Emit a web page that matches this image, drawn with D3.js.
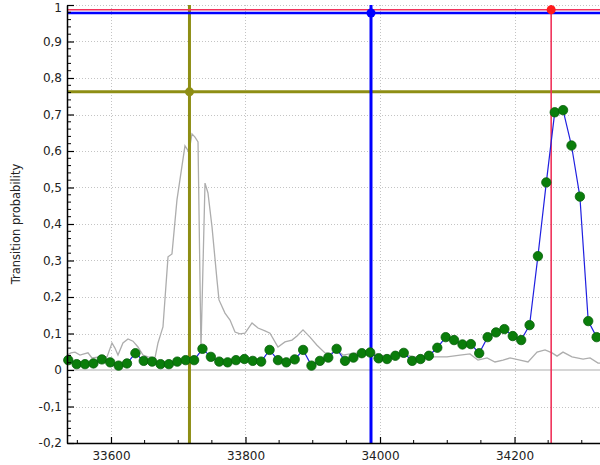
<!DOCTYPE html>
<html>
<head>
<meta charset="utf-8">
<script src="https://cdn.jsdelivr.net/npm/d3@7"></script>
<style>
  html, body { margin: 0; padding: 0; background: #fff; }
  svg { display: block; }
  text { font-family: "DejaVu Sans", Verdana, sans-serif; }
</style>
</head>
<body>
<svg id="chart" width="600" height="465"></svg>
<script>
// ---------- data ----------
const pointX = [33536.5,33549.0,33561.4,33573.9,33586.4,33598.9,33611.3,33623.8,33636.3,33648.7,
  33661.2,33673.7,33686.1,33698.6,33711.1,33723.6,33736.0,33748.5,33761.0,33773.4,
  33785.9,33798.4,33810.8,33823.3,33835.8,33848.3,33860.7,33873.2,33885.7,33898.1,
  33910.6,33923.1,33935.5,33948.0,33960.5,33973.0,33985.4,33997.9,34010.4,34022.8,
  34035.3,34047.8,34060.2,34072.7,34085.2,34097.7,34110.1,34122.6,34135.1,34147.5,
  34160.0,34172.5,34184.9,34197.4,34209.9,34222.4,34234.8,34247.3,34259.8,34272.2,
  34284.7,34297.2,34309.6,34322.1];
const pointY = [0.027,0.016,0.016,0.018,0.029,0.021,0.012,0.018,0.046,0.025,
  0.023,0.016,0.016,0.023,0.027,0.027,0.058,0.036,0.023,0.021,
  0.027,0.030,0.025,0.023,0.055,0.027,0.021,0.029,0.055,0.012,
  0.025,0.034,0.058,0.025,0.034,0.046,0.048,0.032,0.030,0.039,
  0.047,0.025,0.030,0.039,0.061,0.090,0.082,0.070,0.071,0.046,
  0.090,0.103,0.112,0.093,0.082,0.123,0.312,0.514,0.706,0.712,
  0.615,0.475,0.134,0.090];

const grayX = [33530.0,33540.5,33546.5,33553.9,33559.9,33565.8,33571.7,33583.6,33594.1,33601.5,
  33605.9,33610.4,33617.8,33625.3,33632.7,33640.1,33647.6,33655.0,33665.4,33669.9,
  33674.4,33677.3,33684.8,33690.7,33698.1,33710.0,33716.0,33720.4,33724.9,33729.4,
  33733.8,33739.8,33744.2,33750.2,33757.6,33760.6,33769.5,33777.0,33784.4,33791.8,
  33799.3,33809.7,33818.6,33829.0,33836.4,33848.3,33858.7,33869.1,33876.6,33885.5,
  33895.9,33906.3,33918.2,33925.7,33936.1,33945.0,33955.4,33970.3,33985.1,34000.0,
  34014.9,34029.7,34049.1,34074.4,34099.6,34119.0,34133.8,34145.7,34159.1,34171.0,
  34182.9,34193.3,34208.2,34220.1,34233.5,34245.4,34255.8,34263.2,34272.1,34285.5,
  34301.9,34312.3,34324.2,34330.0];
const grayY = [0.036,0.047,0.049,0.041,0.044,0.047,0.033,0.036,0.036,0.074,
  0.060,0.041,0.074,0.085,0.079,0.063,0.041,0.036,0.033,0.074,
  0.101,0.118,0.310,0.318,0.466,0.614,0.597,0.647,0.638,0.625,
  0.058,0.512,0.485,0.392,0.247,0.192,0.156,0.137,0.104,0.099,
  0.101,0.129,0.115,0.107,0.101,0.063,0.077,0.082,0.093,0.110,
  0.090,0.068,0.047,0.044,0.055,0.041,0.044,0.047,0.047,0.041,
  0.038,0.047,0.036,0.036,0.036,0.041,0.044,0.027,0.033,0.022,
  0.027,0.033,0.027,0.022,0.049,0.055,0.047,0.038,0.049,0.036,
  0.030,0.033,0.019,0.019];

// cursors: [x, y]
const cursorNames = ["olive", "blue", "red"];
const cursorX = [33716.7, 33986.6, 34254.5];
const cursorY = [0.762, 0.978, 0.987];

const xTickValues = [33600, 33800, 34000, 34200];
const xTickLabels = ["33600", "33800", "34000", "34200"];
const yTickValues = [-0.2, -0.1, 0, 0.1, 0.2, 0.3, 0.4, 0.5, 0.6, 0.7, 0.8, 0.9, 1];
const yTickLabels = ["-0,2", "-0,1", "0", "0,1", "0,2", "0,3", "0,4", "0,5", "0,6", "0,7", "0,8", "0,9", "1"];
const yTitle = "Transition probability";

// ---------- layout ----------
const L = 67, R = 600, T = 5, B = 443;
const svg = d3.select("#chart");
const x = d3.scaleLinear().domain([33534.6, 34327.1]).range([L, R]);
const y = d3.scaleLinear().domain([-0.2, 1]).range([B, T]);

svg.append("defs").append("clipPath").attr("id", "clip")
  .append("rect").attr("x", L).attr("y", T).attr("width", R - L).attr("height", B - T);
svg.append("defs").append("clipPath").attr("id", "clipPts")
  .append("rect").attr("x", L - 6).attr("y", T - 6).attr("width", R - L + 12).attr("height", B - T + 12);

// grid
const grid = svg.append("g").attr("clip-path", "url(#clip)");
grid.selectAll("line.gx").data(xTickValues).join("line")
  .attr("x1", d => Math.round(x(d)) + 0.5).attr("x2", d => Math.round(x(d)) + 0.5)
  .attr("y1", T).attr("y2", B)
  .attr("stroke", "#c4c4c4").attr("stroke-width", 1).attr("stroke-dasharray", "1,2");
grid.selectAll("line.gy").data(yTickValues.filter(v => v !== 0)).join("line")
  .attr("x1", L).attr("x2", R)
  .attr("y1", d => Math.round(y(d)) + 0.5).attr("y2", d => Math.round(y(d)) + 0.5)
  .attr("stroke", "#c4c4c4").attr("stroke-width", 1).attr("stroke-dasharray", "1,2");
// zero line
grid.append("line").attr("x1", L).attr("x2", R).attr("y1", y(0)).attr("y2", y(0))
  .attr("stroke", "#c8c8c8").attr("stroke-width", 1.6);

const plot = svg.append("g").attr("clip-path", "url(#clip)");

// gray line
const grayData = grayX.map((v, i) => [v, grayY[i]]);
plot.append("path").datum(grayData)
  .attr("fill", "none").attr("stroke", "#adadad").attr("stroke-width", 1.3)
  .attr("d", d3.line().x(d => x(d[0])).y(d => y(d[1])));

// cursors (lines)
const cColors = ["#8e8e14", "#0000ff", "#f0325a"];
const cVW = [3, 3, 1.6];
const cHW = [3, 2.6, 1.6];
cursorNames.forEach((n, i) => {
  plot.append("line").attr("x1", L).attr("x2", R).attr("y1", y(cursorY[i])).attr("y2", y(cursorY[i]))
    .attr("stroke", cColors[i]).attr("stroke-width", cHW[i]);
  plot.append("line").attr("x1", x(cursorX[i])).attr("x2", x(cursorX[i])).attr("y1", T).attr("y2", B)
    .attr("stroke", cColors[i]).attr("stroke-width", cVW[i]);
});

// green series
const ptData = pointX.map((v, i) => [v, pointY[i]]);
const pts = svg.append("g").attr("clip-path", "url(#clipPts)");
pts.append("path").datum(ptData)
  .attr("fill", "none").attr("stroke", "#2020e0").attr("stroke-width", 1.2)
  .attr("d", d3.line().x(d => x(d[0])).y(d => y(d[1])));
pts.selectAll("circle").data(ptData).join("circle")
  .attr("cx", d => x(d[0])).attr("cy", d => y(d[1])).attr("r", 4.7)
  .attr("fill", "#0a7d0a").attr("stroke", "#06600a").attr("stroke-width", 0.8);

// cursor dots
const cDotColors = ["#8e8e14", "#0000ff", "#ff1a1a"];
cursorNames.forEach((n, i) => {
  svg.append("circle").attr("cx", x(cursorX[i])).attr("cy", y(cursorY[i])).attr("r", 4.5)
    .attr("fill", cDotColors[i]);
});

// axes
const yAxis = d3.axisLeft(y).tickValues(yTickValues)
  .tickFormat((d, i) => yTickLabels[i]).tickSizeInner(-7).tickSizeOuter(0).tickPadding(5);
const gy = svg.append("g").attr("transform", `translate(${L},0)`).call(yAxis);
gy.select(".domain").attr("stroke", "#000").attr("stroke-width", 1.5);
gy.selectAll(".tick line").attr("stroke", "#000").attr("stroke-width", 1.2);
gy.selectAll("text").attr("font-size", 12).attr("fill", "#222")
  .attr("font-family", "'DejaVu Sans', Verdana, sans-serif");
gy.selectAll(".tick").filter(d => d === 1).select("text").attr("dy", "0.55em");
// minor y ticks
const yMinor = d3.range(-0.18, 1.0, 0.02).filter(v => Math.abs(v * 10 - Math.round(v * 10)) > 0.05);
svg.append("g").selectAll("line").data(yMinor).join("line")
  .attr("x1", L).attr("x2", L + 4).attr("y1", d => y(d)).attr("y2", d => y(d))
  .attr("stroke", "#000").attr("stroke-width", 1);

const xAxis = d3.axisBottom(x).tickValues(xTickValues)
  .tickFormat((d, i) => xTickLabels[i]).tickSizeInner(-6).tickSizeOuter(0).tickPadding(8);
const gx = svg.append("g").attr("transform", `translate(0,${B})`).call(xAxis);
gx.select(".domain").attr("stroke", "#000").attr("stroke-width", 1.5);
gx.selectAll(".tick line").attr("stroke", "#000").attr("stroke-width", 1.2);
gx.selectAll("text").attr("font-size", 12).attr("fill", "#222")
  .attr("font-family", "'DejaVu Sans', Verdana, sans-serif");
const xMinor = d3.range(33550, 34327, 50).filter(v => v % 200 !== 0);
svg.append("g").selectAll("line").data(xMinor).join("line")
  .attr("x1", d => x(d)).attr("x2", d => x(d)).attr("y1", B).attr("y2", B - 3)
  .attr("stroke", "#000").attr("stroke-width", 1);

// y title
svg.append("text").attr("transform", `translate(20,${(T + B) / 2}) rotate(-90)`)
  .attr("text-anchor", "middle").attr("font-size", 11.5).attr("fill", "#222")
  .text(yTitle);
</script>
</body>
</html>
